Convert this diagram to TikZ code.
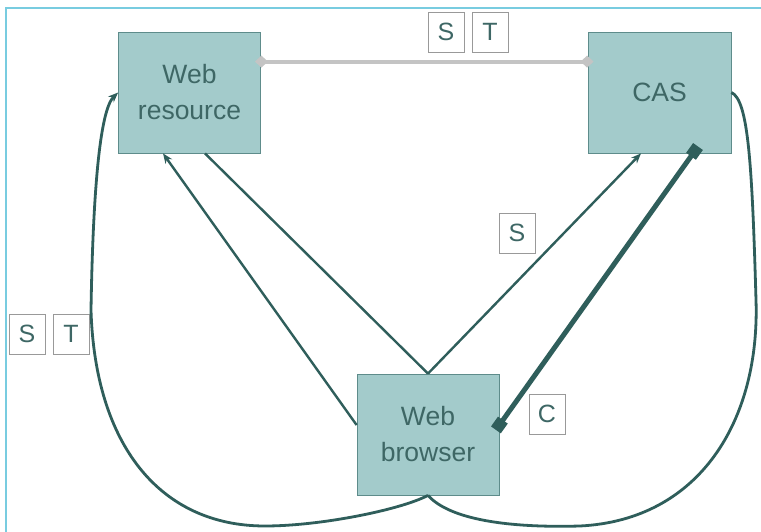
\documentclass[tikz,border=0pt]{standalone}
\usepackage{fontspec}
\setmainfont{Liberation Sans}
\usetikzlibrary{arrows.meta,calc}
\definecolor{boxfill}{HTML}{A3CBCB}
\definecolor{boxdraw}{HTML}{5E8C8B}
\definecolor{ink}{HTML}{2F5E5B}
\definecolor{txt}{HTML}{3E6765}
\definecolor{framec}{HTML}{78CCE0}
\definecolor{greyline}{HTML}{C4C4C4}
\begin{document}
\begin{tikzpicture}[x=1pt,y=-1pt,
 entity/.style={rectangle, fill=boxfill, draw=boxdraw, line width=0.8pt, text=txt, align=center, font=\fontsize{26.5}{36}\selectfont, inner sep=0pt},
 lbl/.style={rectangle, draw=gray!80, line width=0.8pt, fill=white, text=txt, font=\fontsize{25}{28}\selectfont, minimum width=36pt, minimum height=40pt, inner sep=0pt},
 conn/.style={draw=ink, line width=2.4pt},
 tip/.style={-{Stealth[length=10pt,width=8pt]}},
]
\useasboundingbox (0,0) rectangle (761,532);
\fill[white] (0,0) rectangle (761,532);
\draw[framec, line width=2pt] (6,532) -- (6,8) -- (761,8);

\node[entity, minimum width=142pt, minimum height=121pt] (res) at (189.5,92.5) {Web\\resource};
\node[entity, minimum width=143pt, minimum height=121pt] (cas) at (659.5,92.5) {CAS};
\node[entity, minimum width=142pt, minimum height=121pt] (br) at (428,434.5) {Web\\browser};

\node[lbl] (st1) at (446,32) {S};
\node[lbl] (tt1) at (490,32) {T};
\node[lbl] (s2) at (517,233) {S};
\node[lbl] (st3) at (27,334) {S};
\node[lbl] (tt3) at (71,334) {T};
\node[lbl] (c1) at (547,414) {C};

\coordinate (resE) at ($(res.north east)+(0,30)$);
\coordinate (casW) at ($(cas.north west)+(0,30)$);
\coordinate (resS1) at ($(res.south)+(-26.5,0)$);
\coordinate (resS2) at ($(res.south)+(15.5,0)$);
\coordinate (casS1) at ($(cas.south)+(-18.5,0)$);
\coordinate (casS2) at ($(cas.south)+(35,-2)$);
\coordinate (brW) at ($(br.west)+(0,-9.5)$);
\coordinate (brE) at ($(br.east)+(0,-9.5)$);

\draw[greyline, line width=4pt, shorten <=-6pt, shorten >=-6pt,
  {Diamond[length=13pt,width=12pt]}-{Diamond[length=13pt,width=12pt]}] (resE) -- (casW);

\draw[conn, tip] (brW) -- (resS1);
\draw[conn] (br.north) -- (resS2);
\draw[conn, tip] (br.north) -- (casS1);
\draw[draw=ink, line width=5pt, shorten <=-6pt, shorten >=-6pt,
  {Square[length=12pt,width=12pt]}-{Square[length=12pt,width=12pt]}] (brE) -- (casS2);

\draw[conn, line width=2.8pt, tip] (br.south) .. controls (400,510) and (320,526) .. (265,526)
  .. controls (160,526) and (95,445) .. (91,310)
  .. controls (93,190) and (100,110) .. (res.west);
\draw[conn, line width=2.8pt] (cas.east) .. controls (748,100) and (752,160) .. (756,300)
  .. controls (760,420) and (700,520) .. (580,526)
  .. controls (510,528) and (450,520) .. (br.south);
\end{tikzpicture}
\end{document}
